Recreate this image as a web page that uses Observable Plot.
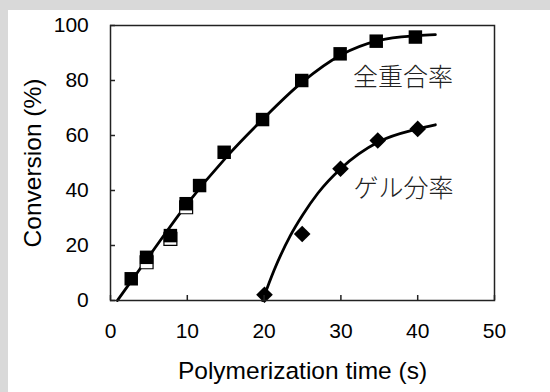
<!DOCTYPE html>
<html><head><meta charset="utf-8">
<script src="https://cdn.jsdelivr.net/npm/d3@7"></script>
<script src="https://cdn.jsdelivr.net/npm/@observablehq/plot@0.6"></script>
<style>
html,body{margin:0;padding:0;background:#d9d9d9;width:550px;height:392px;overflow:hidden}
#panel{position:absolute;left:8px;top:10px;width:542px;height:382px;background:#fff}
</style></head><body><div id="panel"></div>
<script>
// Total conversion (filled squares)
const timeTotal = [2.7, 4.7, 7.8, 9.85, 11.6, 14.8, 19.8, 24.9, 29.9, 34.6, 39.7];
const convTotal = [7.9, 15.7, 23.6, 35.2, 41.8, 53.9, 65.8, 80.0, 89.7, 94.3, 95.8];
// Open squares (second run, partly hidden)
const timeOpen = [4.7, 7.8, 9.85];
const convOpen = [13.9, 22.4, 33.9];
// Gel fraction (diamonds)
const timeGel = [20.05, 24.96, 29.95, 34.8, 40.0];
const convGel = [2.1, 24.2, 47.9, 58.2, 62.4];
// Fitted curves
const fitTotalT = [0.9, 5, 9.8, 15.2, 19.75, 25, 30, 35, 40, 42.3];
const fitTotalV = [0, 16, 34.5, 52.5, 65.7, 79.5, 89.3, 94.6, 96.3, 96.7];
const fitGelT = [19.8, 21.3, 23.4, 25, 27, 30, 35, 40, 42.3];
const fitGelV = [0, 11, 23.5, 31, 39, 48, 57.8, 62.4, 63.9];
// Annotations
const annoText = ["全重合率", "ゲル分率"];
const annoT = [38.1, 38.15];
const annoV = [80.9, 40.4];
// Axes
const xTicks = [0, 10, 20, 30, 40, 50];
const yTicks = [0, 20, 40, 60, 80, 100];
const xLabel = "Polymerization time (s)";
const yLabel = "Conversion (%)";

const pts = (T, V) => T.map((t, i) => ({t, v: V[i]}));
const total = pts(timeTotal, convTotal);
const open = pts(timeOpen, convOpen);
const gel = pts(timeGel, convGel);
const fitTotal = pts(fitTotalT, fitTotalV);
const fitGel = pts(fitGelT, fitGelV);
const anno = annoText.map((s, i) => ({s, t: annoT[i], v: annoV[i]}));

const chart = Plot.plot({
  width: 542, height: 382,
  marginLeft: 102, marginRight: 56, marginTop: 15, marginBottom: 92,
  style: {fontFamily: "'Liberation Sans', Arial, sans-serif", fontSize: "21px", background: "transparent", color: "#000", overflow: "visible"},
  x: {domain: [0, 50]},
  y: {domain: [0, 100]},
  marks: [
    Plot.line(fitTotal, {x: "t", y: "v", curve: "monotone-x", stroke: "#000", strokeWidth: 2.8}),
    Plot.line(fitGel, {x: "t", y: "v", curve: "monotone-x", stroke: "#000", strokeWidth: 2.8}),
    Plot.dot(open, {x: "t", y: "v", symbol: "square", r: 7.3, fill: "#fff", stroke: "#000", strokeWidth: 1.2}),
    Plot.dot(total, {x: "t", y: "v", symbol: "square", r: 7.6, fill: "#000", stroke: "none"}),
    Plot.dot(gel, {x: "t", y: "v", symbol: "diamond2", r: 7.5, fill: "#000", stroke: "none"}),
    Plot.text(anno, {x: "t", y: "v", text: "s", fontSize: 25, fontFamily: "'Noto Sans CJK JP', sans-serif", fontWeight: 300, fill: "#222", textAnchor: "middle", lineAnchor: "middle"}),
    Plot.frame({stroke: "#222", strokeWidth: 1.5}),
    Plot.axisX(xTicks, {tickSize: -5, tickPadding: 27.7, stroke: "#222", strokeWidth: 1.5, fontSize: 21, label: null}),
    Plot.axisY(yTicks, {tickSize: -5, tickPadding: 26.7, stroke: "#222", strokeWidth: 1.5, fontSize: 21, label: null}),
    Plot.axisX(xTicks, {tickSize: 0, tickFormat: () => "", fontSize: 24.5,
      label: xLabel, labelAnchor: "center", labelOffset: 78, labelArrow: "none"}),
    Plot.axisY(yTicks, {tickSize: 0, tickFormat: () => "", fontSize: 24.5,
      label: yLabel, labelAnchor: "center", labelOffset: 87, labelArrow: "none"})
  ]
});
document.getElementById("panel").appendChild(chart);
</script></body></html>
